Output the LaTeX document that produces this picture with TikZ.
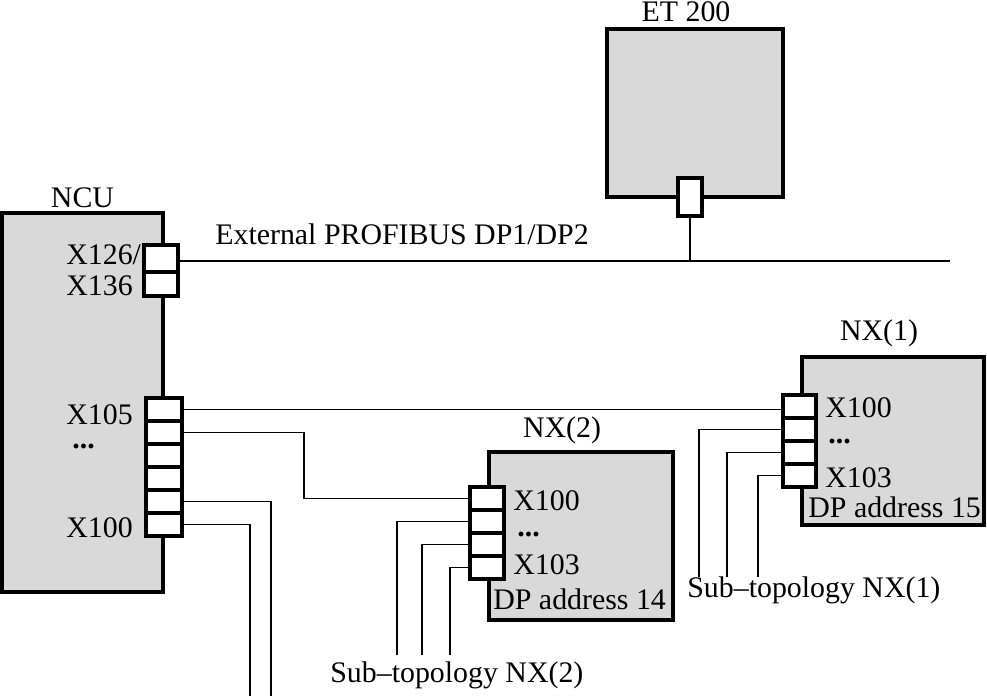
\documentclass[tikz,border=0pt]{standalone}
\usepackage{fontspec}
\setmainfont{Liberation Serif}
\usepackage{tikz}
\usetikzlibrary{positioning,calc}

\begin{document}
\begin{tikzpicture}[x=0.02cm, y=-0.02cm,
    unit/.style={rectangle, draw, line width=2.2pt, fill=black!15, inner sep=0pt},
    port/.style={rectangle, draw, line width=2pt, fill=white, inner sep=0pt},
    wire/.style={line width=0.7pt},
    lbl/.style={font=\fontsize{17}{19}\selectfont, inner sep=0pt}
]
\useasboundingbox (0,0) rectangle (987,696);

% units
\node[unit, minimum width=3.22cm, minimum height=7.58cm] (ncu) at (82.5,402.5) {};
\node[unit, minimum width=3.52cm, minimum height=3.36cm] (et) at (695,113) {};
\node[unit, minimum width=3.68cm, minimum height=3.36cm] (nxb) at (581,536) {};
\node[unit, minimum width=3.64cm, minimum height=3.36cm] (nxa) at (893,441) {};

\node[lbl, anchor=base] (ncutxt) at (82.5,207) {NCU};
\node[lbl, anchor=base] (ettxt) at (686,22) {ET 200};
\node[lbl, anchor=base] (nxbtxt) at (562,437) {NX(2)};
\node[lbl, anchor=base] (nxatxt) at (879,340) {NX(1)};

% ports
\node[port, minimum width=0.68cm, minimum height=0.54cm] (x126) at (161,258.5) {};
\node[port, minimum width=0.68cm, minimum height=0.48cm] (x136) at (161,284) {};
\foreach \i in {1,...,6}
    \node[port, minimum width=0.72cm, minimum height=0.46cm] (ncu\i) at (164,{386.5+23*\i}) {};
\foreach \i in {1,...,4} {
    \node[port, minimum width=0.68cm, minimum height=0.46cm] (nxb\i) at (487,{475.5+23*\i}) {};
    \node[port, minimum width=0.66cm, minimum height=0.46cm] (nxa\i) at (799.5,{383.5+23*\i}) {};
}
\node[port, minimum width=0.48cm, minimum height=0.76cm] (etp) at (690,197) {};

% bus
\coordinate (busend) at (950,261);
\draw[wire] (x126.east |- busend) -- (busend);
\draw[wire] (etp.south) -- (etp.south |- busend);
\node[lbl, anchor=base west] (bustxt) at (215,244) {External PROFIBUS DP1/DP2};

% NCU to NX
\coordinate (bendb) at (304,0);
\draw[wire] (ncu1.east) -- (ncu1.east -| nxa1.west);
\draw[wire] (ncu2.east) -| (bendb |- nxb1.west) -- (nxb1.west);
\coordinate (dropa) at (271,696);
\coordinate (dropb) at (250,696);
\draw[wire] (ncu5.east) -| (dropa);
\draw[wire] (ncu6.east) -| (dropb);

% sub-topologies
\foreach \i/\x in {2/397,3/422,4/450}
    \draw[wire] (nxb\i.west) -| (\x,655);
\foreach \i/\x in {2/699,3/727,4/758}
    \draw[wire] (nxa\i.west) -| (\x,577);

% port labels
\node[lbl, anchor=base west] (l126) at (66,264) {X126/};
\node[lbl, anchor=base west] (l136) at (66,295) {X136};
\node[lbl, anchor=base west] (l105) at (66,424) {X105};
\node[lbl, anchor=base west] (lncu) at (72,448) {\bfseries...};
\node[lbl, anchor=base west] (l100) at (66,537) {X100};

\node[lbl, anchor=base west] (lb100) at (513,510) {X100};
\node[lbl, anchor=base west] (lbdot) at (517,536) {\bfseries...};
\node[lbl, anchor=base west] (lb103) at (513,574) {X103};
\node[lbl, anchor=base west] (lbdp) at (493,609) {DP address 14};

\node[lbl, anchor=base west] (la100) at (825,417) {X100};
\node[lbl, anchor=base west] (ladot) at (828,443) {\bfseries...};
\node[lbl, anchor=base west] (la103) at (825,487) {X103};
\node[lbl, anchor=base west] (ladp) at (808,517) {DP address 15};

\node[lbl, anchor=base west] (subb) at (330,682) {Sub–topology NX(2)};
\node[lbl, anchor=base west] (suba) at (687,597) {Sub–topology NX(1)};

\end{tikzpicture}
\end{document}
